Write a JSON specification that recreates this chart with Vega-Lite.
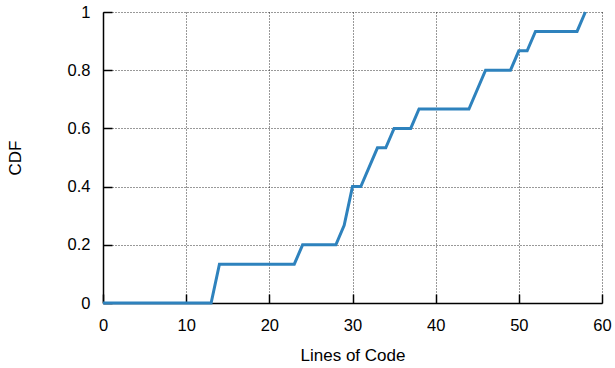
{
  "$schema": "https://vega.github.io/schema/vega-lite/v6.json",
  "width": 499,
  "height": 291,
  "autosize": {"type": "none"},
  "padding": {"left": 103, "top": 12, "right": 13, "bottom": 65},
  "background": "white",
  "config": {
    "view": {"stroke": null},
    "font": "Liberation Sans",
    "axis": {
      "domainColor": "black",
      "domainWidth": 1.5,
      "tickColor": "black",
      "tickWidth": 1.5,
      "tickSize": -9,
      "gridColor": "black",
      "gridDash": [1, 2],
      "gridWidth": 1,
      "gridOpacity": 0.8,
      "labelFont": "Liberation Sans",
      "labelFontSize": 16.5,
      "labelColor": "black",
      "titleFont": "Liberation Sans",
      "titleFontSize": 17,
      "titleFontWeight": "normal",
      "titleColor": "black"
    }
  },
  "data": {
    "values": [
      {"loc": 0, "cdf": 0},
      {"loc": 13, "cdf": 0},
      {"loc": 14, "cdf": 0.1333},
      {"loc": 23, "cdf": 0.1333},
      {"loc": 24, "cdf": 0.2},
      {"loc": 28, "cdf": 0.2},
      {"loc": 29, "cdf": 0.2667},
      {"loc": 30, "cdf": 0.4},
      {"loc": 31, "cdf": 0.4},
      {"loc": 33, "cdf": 0.5333},
      {"loc": 34, "cdf": 0.5333},
      {"loc": 35, "cdf": 0.6},
      {"loc": 37, "cdf": 0.6},
      {"loc": 38, "cdf": 0.6667},
      {"loc": 44, "cdf": 0.6667},
      {"loc": 46, "cdf": 0.8},
      {"loc": 49, "cdf": 0.8},
      {"loc": 50, "cdf": 0.8667},
      {"loc": 51, "cdf": 0.8667},
      {"loc": 52, "cdf": 0.9333},
      {"loc": 57, "cdf": 0.9333},
      {"loc": 58, "cdf": 1}
    ]
  },
  "mark": {"type": "line", "color": "#2e82bd", "strokeWidth": 3, "strokeJoin": "miter"},
  "encoding": {
    "x": {
      "field": "loc",
      "type": "quantitative",
      "scale": {"domain": [0, 60], "nice": false},
      "axis": {"title": "Lines of Code", "values": [0, 10, 20, 30, 40, 50, 60], "labelPadding": 23, "titlePadding": 14, "labelFlush": false}
    },
    "y": {
      "field": "cdf",
      "type": "quantitative",
      "scale": {"domain": [0, 1], "nice": false},
      "axis": {"title": "CDF", "values": [0, 0.2, 0.4, 0.6, 0.8, 1], "labelPadding": 22, "titlePadding": 43, "labelFlush": false, "labelExpr": "datum.value == 0 ? '0' : datum.value == 1 ? '1' : format(datum.value, '.1f')"}
    }
  }
}
